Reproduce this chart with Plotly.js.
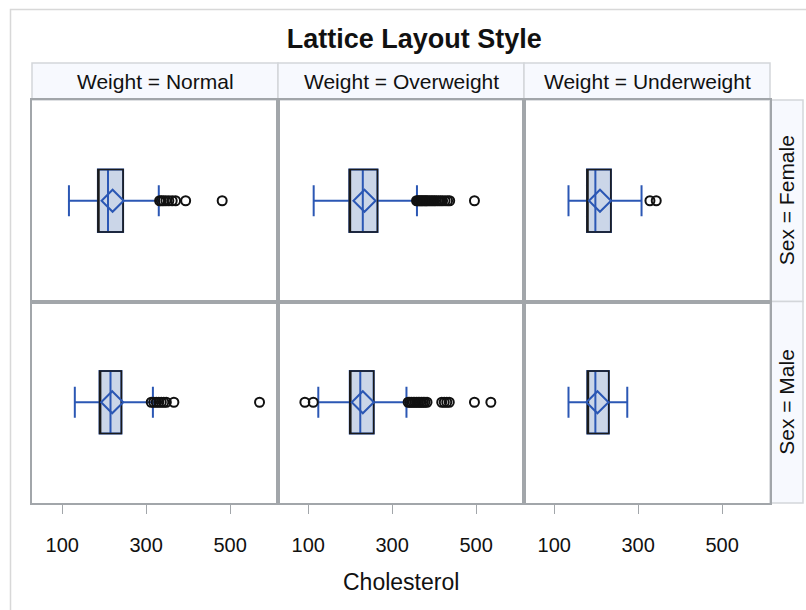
<!DOCTYPE html>
<html>
<head>
<meta charset="utf-8">
<script src="https://cdn.plot.ly/plotly-3.0.1.min.js"></script>
<style>html,body{margin:0;padding:0;background:#fff;}#chart{width:806px;height:610px;}</style>
</head>
<body>
<div id="chart"></div>
<script>
// Panel order: Female-Normal, Female-Overweight, Female-Underweight, Male-Normal, Male-Overweight, Male-Underweight
const colLabels = ['Weight = Normal', 'Weight = Overweight', 'Weight = Underweight'];
const rowLabels = ['Sex = Female', 'Sex = Male'];
const tickVals = [100, 300, 500];
const lowWhisker = [116, 113, 134, 130, 124, 134];
const q1Vals = [185, 198, 178, 189, 199, 179];
const medians = [209, 230, 198, 215, 224, 198];
const means = [220, 234, 209, 219, 230, 203];
const q3Vals = [245, 265, 235, 241, 256, 230];
const highWhisker = [330, 359, 308, 316, 334, 274];
const outliersFN = [332, 336, 341, 347, 354, 362, 370, 394, 481];
const outliersFO = [358, 361, 364, 367, 370, 373, 376, 379, 382, 385, 389, 393, 397, 401, 405, 410, 415, 420, 426, 432, 437, 496];
const outliersFU = [328, 343];
const outliersMN = [312, 318, 324, 330, 336, 342, 348, 366, 570];
const outliersMO = [92, 112, 338, 342, 346, 350, 354, 358, 362, 366, 370, 374, 378, 383, 418, 424, 430, 436, 496, 535];
const outliersMU = [];
const outlierSets = [outliersFN, outliersFO, outliersFU, outliersMN, outliersMO, outliersMU];

const BLUE = '#2B57B4';
const FILL = '#CBD6E8';
const GRID = '#A2A6AA';
const FONT = 'Liberation Sans, Arial, sans-serif';

const traces = [];
const layout = {
  width: 806, height: 610,
  margin: {l: 32, r: 36, t: 100, b: 107},
  paper_bgcolor: '#fff', plot_bgcolor: '#fff',
  showlegend: false, hovermode: false,
  font: {family: FONT, color: '#111'},
  title: {text: '<b>Lattice Layout Style</b>', font: {family: FONT, size: 27, color: '#111'},
          xref: 'paper', x: 0.518, xanchor: 'center', yref: 'container', y: 1 - 39/610, yanchor: 'middle'},
  annotations: [], shapes: []
};

for (let i = 0; i < 6; i++) {
  const r = Math.floor(i / 3), c = i % 3;
  const n = i + 1;
  const xa = 'x' + (n === 1 ? '' : n), ya = 'y' + (n === 1 ? '' : n);
  traces.push({type: 'box', orientation: 'h', xaxis: xa, yaxis: ya, y: [0],
    q1: [q1Vals[i]], median: [medians[i]], q3: [q3Vals[i]],
    lowerfence: [lowWhisker[i]], upperfence: [highWhisker[i]],
    width: 0.62, whiskerwidth: 0.5, boxpoints: false,
    fillcolor: FILL, line: {color: BLUE, width: 2}});
  traces.push({type: 'box', orientation: 'h', xaxis: xa, yaxis: ya, y: [0],
    q1: [q1Vals[i]], median: [q1Vals[i]], q3: [q3Vals[i]],
    lowerfence: [q1Vals[i]], upperfence: [q3Vals[i]],
    width: 0.62, whiskerwidth: 0, boxpoints: false,
    fillcolor: 'rgba(0,0,0,0)', line: {color: '#1a1a1a', width: 1.6}});
  traces.push({type: 'scatter', mode: 'markers', xaxis: xa, yaxis: ya,
    x: [means[i]], y: [0],
    marker: {symbol: 'diamond-open', size: 17, color: BLUE, line: {width: 2, color: BLUE}}});
  traces.push({type: 'scatter', mode: 'markers', xaxis: xa, yaxis: ya,
    x: outlierSets[i], y: outlierSets[i].map(() => 0),
    marker: {symbol: 'circle-open', size: 9, color: '#111', line: {width: 2, color: '#111'}}});

  const xk = 'xaxis' + (n === 1 ? '' : n), yk = 'yaxis' + (n === 1 ? '' : n);
  layout[xk] = {domain: [c / 3, (c + 1) / 3], range: [28, 614], anchor: ya,
    showgrid: false, zeroline: false, showline: true, mirror: true,
    linecolor: GRID, linewidth: 2,
    tickvals: tickVals, ticktext: tickVals.map(String),
    ticks: r === 1 ? 'outside' : '', ticklen: 9, tickwidth: 1, tickcolor: GRID,
    showticklabels: r === 1, ticklabelstandoff: 14,
    tickfont: {family: FONT, size: 20, color: '#111'}};
  layout[yk] = {domain: r === 0 ? [0.5, 1] : [0, 0.5], range: [-1, 1], anchor: xa,
    showgrid: false, zeroline: false, showline: true, mirror: true,
    linecolor: GRID, linewidth: 2, showticklabels: false, ticks: ''};
}

// header strips
const hdrTop = (503 - 63) / 403;
for (let c = 0; c < 3; c++) {
  layout.shapes.push({type: 'rect', xref: 'paper', yref: 'paper', x0: c / 3, x1: (c + 1) / 3, y0: 1, y1: hdrTop,
    fillcolor: '#F7F9FE', line: {color: '#D3D6DA', width: 1.5}, layer: 'below'});
  layout.annotations.push({xref: 'paper', yref: 'paper', x: (c + 0.5) / 3, y: (1 + hdrTop) / 2,
    text: colLabels[c], showarrow: false, xanchor: 'center', yanchor: 'middle',
    font: {family: FONT, size: 21, color: '#111'}});
}
const stripRight = (803 - 32) / 738;
for (let r = 0; r < 2; r++) {
  layout.shapes.push({type: 'rect', xref: 'paper', yref: 'paper', x0: 1, x1: stripRight,
    y0: r === 0 ? 0.5 : 0, y1: r === 0 ? 1 : 0.5,
    fillcolor: '#F7F9FE', line: {color: '#D3D6DA', width: 1.5}, layer: 'below'});
  layout.annotations.push({xref: 'paper', yref: 'paper', x: (1 + stripRight) / 2, y: r === 0 ? 0.75 : 0.25,
    text: rowLabels[r], textangle: -90, showarrow: false, xanchor: 'center', yanchor: 'middle',
    font: {family: FONT, size: 21, color: '#111'}});
}
// axis title
layout.annotations.push({xref: 'paper', yref: 'paper', x: 0.5, y: (503 - 582) / 403,
  text: 'Cholesterol', showarrow: false, xanchor: 'center', yanchor: 'middle',
  font: {family: FONT, size: 23, color: '#111'}});
// outer frame
layout.shapes.push({type: 'rect', xref: 'paper', yref: 'paper', x0: (10.5 - 32) / 738, x1: 2, y0: -1, y1: (503 - 9.5) / 403,
  line: {color: '#D8D8D8', width: 1.5}, fillcolor: 'rgba(0,0,0,0)', layer: 'below'});

Plotly.newPlot('chart', traces, layout, {staticPlot: true, displayModeBar: false});
</script>
</body>
</html>
